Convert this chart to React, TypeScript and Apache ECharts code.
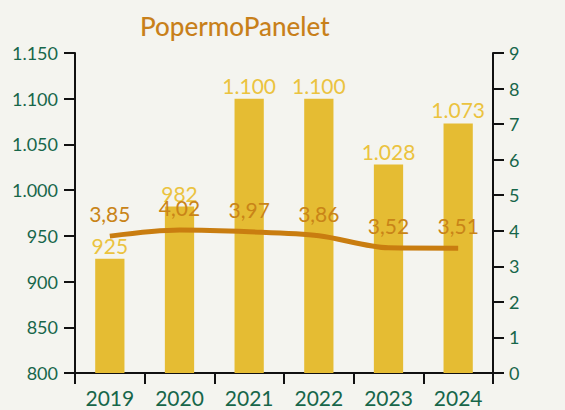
import React, { useEffect, useRef } from "react";
import * as echarts from "echarts";

const categories = ["2019", "2020", "2021", "2022", "2023", "2024"];
const barValues = [925, 982, 1100, 1100, 1028, 1073];
const lineValues = [3.85, 4.02, 3.97, 3.86, 3.52, 3.51];
const titleText = "PopermoPanelet";

const FONT = "Lato, 'Noto Sans', sans-serif";
const GREEN = "#17664A";

function thousands(v: number): string {
  return String(v).replace(/\B(?=(\d{3})+(?!\d))/g, ".");
}

export default function App() {
  const ref = useRef<HTMLDivElement>(null);
  useEffect(() => {
    if (!ref.current) return;
    const chart = echarts.init(ref.current, undefined, { renderer: "svg" });
    chart.setOption({
      animation: false,
      backgroundColor: "#F4F4EF",
      textStyle: { fontFamily: FONT },
      title: {
        text: titleText,
        left: 135,
        top: 8,
        textStyle: { color: "#C8801A", fontSize: 26, fontWeight: 500, fontFamily: FONT },
      },
      grid: { left: 75, right: 72, top: 53, bottom: 37, containLabel: false },
      xAxis: {
        type: "category",
        data: categories,
        axisLine: { lineStyle: { color: "#111", width: 2 } },
        axisTick: { show: true, length: 11, lineStyle: { color: "#111", width: 2 } },
        axisLabel: { color: GREEN, fontSize: 21, margin: 14, fontFamily: FONT },
      },
      yAxis: [
        {
          type: "value",
          min: 800,
          max: 1150,
          interval: 50,
          splitLine: { show: false },
          axisLine: { show: true, lineStyle: { color: "#111", width: 2 } },
          axisTick: { show: true, length: 11, lineStyle: { color: "#111", width: 2 } },
          axisLabel: { color: GREEN, fontSize: 18, margin: 17, formatter: (v: number) => thousands(v), fontFamily: FONT },
        },
        {
          type: "value",
          min: 0,
          max: 9,
          interval: 1,
          splitLine: { show: false },
          axisLine: { show: true, lineStyle: { color: "#111", width: 2 } },
          axisTick: { show: true, length: 11, lineStyle: { color: "#111", width: 2 } },
          axisLabel: { color: GREEN, fontSize: 18, margin: 16, fontFamily: FONT },
        },
      ],
      series: [
        {
          type: "bar",
          data: barValues,
          barWidth: "42%",
          itemStyle: { color: "#E5BC33" },
          label: {
            show: true,
            position: "top",
            distance: 3,
            color: "#EBC33F",
            fontSize: 21,
            fontFamily: FONT,
            formatter: (p: any) => thousands(p.value),
          },
          z: 2,
        },
        {
          type: "line",
          yAxisIndex: 1,
          data: lineValues,
          smooth: 0.3,
          symbol: "circle",
          symbolSize: 2,
          showSymbol: true,
          itemStyle: { color: "rgba(201,125,16,0)", borderWidth: 0 },
          lineStyle: { color: "#C97D10", width: 5 },
          label: {
            show: true,
            position: "top",
            distance: 11,
            color: "#C98418",
            opacity: 1,
            fontSize: 21,
            fontFamily: FONT,
            formatter: (p: any) => p.value.toFixed(2).replace(".", ","),
          },
          labelLayout: { hideOverlap: false },
          z: 3,
        },
      ],
    });
    return () => chart.dispose();
  }, []);
  return <div ref={ref} style={{ width: 565, height: 410, position: "absolute", left: 0, top: 0 }} />;
}
